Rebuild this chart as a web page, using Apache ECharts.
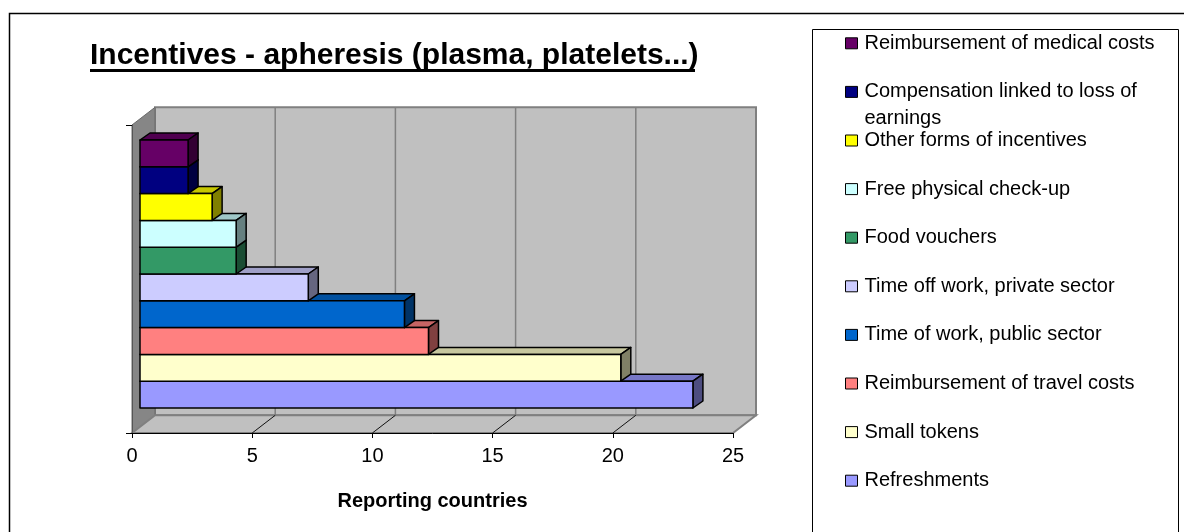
<!DOCTYPE html>
<html>
<head>
<meta charset="utf-8">
<title>Incentives - apheresis</title>
<script src="https://cdn.jsdelivr.net/npm/echarts@6/dist/echarts.min.js"></script>
<style>
html, body { margin: 0; padding: 0; background: #fff; }
#container { width: 1184px; height: 532px; }
</style>
</head>
<body>
<div id="container"></div>
<script>
// bars listed from the bottom one upwards
let categories = ['Refreshments', 'Small tokens', 'Reimbursement of travel costs', 'Time of work, public sector',
  'Time off work, private sector', 'Food vouchers', 'Free physical check-up', 'Other forms of incentives',
  'Compensation linked to loss of earnings', 'Reimbursement of medical costs'];
let values = [23, 20, 12, 11, 7, 4, 4, 3, 2, 2];
let barColors = ['#9999FF', '#FFFFCC', '#FF8080', '#0066CC', '#CCCCFF', '#339966', '#CCFFFF', '#FFFF00', '#000080', '#660066'];
let xTicks = [0, 5, 10, 15, 20, 25];
let legendWrap = { 'Compensation linked to loss of earnings': 'Compensation linked to loss of\nearnings' };

const FONT = 'Liberation Sans, Arial, sans-serif';
// 3d depth of the walls / floor and of each bar
const DX = 23, DY = -17.7;
const BDX = 10, BDY = -7;

function shade(hex, k) {
  let n = parseInt(hex.slice(1), 16);
  let r = Math.round(((n >> 16) & 255) * k), g = Math.round(((n >> 8) & 255) * k), b = Math.round((n & 255) * k);
  return 'rgb(' + r + ',' + g + ',' + b + ')';
}

function renderWalls(params, api) {
  let c = api.coord([0, 0]);
  let h = api.size([0, 1])[1];
  let top = c[1] - h / 2, bottom = c[1] + h / 2;
  let xl = c[0], xr = api.coord([xTicks[xTicks.length - 1], 0])[0];
  let kids = [];
  // back wall
  kids.push({ type: 'polygon', shape: { points: [[xl + DX, top + DY], [xr + DX, top + DY], [xr + DX, bottom + DY], [xl + DX, bottom + DY]] },
    style: { fill: '#C0C0C0', stroke: '#808080', lineWidth: 2 } });
  // left wall
  kids.push({ type: 'polygon', shape: { points: [[xl, top], [xl + DX, top + DY], [xl + DX, bottom + DY], [xl, bottom]] },
    style: { fill: '#868686', stroke: '#6a6a6a', lineWidth: 1 } });
  // floor
  kids.push({ type: 'polygon', shape: { points: [[xl, bottom], [xr, bottom], [xr + DX, bottom + DY], [xl + DX, bottom + DY]] },
    style: { fill: '#C0C0C0', stroke: '#808080', lineWidth: 2 } });
  xTicks.forEach(function (t, i) {
    let x = api.coord([t, 0])[0];
    if (i > 0 && i < xTicks.length - 1) {
      kids.push({ type: 'line', shape: { x1: x + DX, y1: top + DY, x2: x + DX, y2: bottom + DY }, style: { stroke: '#808080', lineWidth: 1.5 } });
      kids.push({ type: 'line', shape: { x1: x, y1: bottom, x2: x + DX, y2: bottom + DY }, style: { stroke: '#111', lineWidth: 1 } });
    }
  });
  return { type: 'group', children: kids };
}

function makeBar(color) {
  return function (params, api) {
    let v = api.value(0), cat = api.value(1);
    let p0 = api.coord([0, cat]), p1 = api.coord([v, cat]);
    let h = api.size([0, 1])[1];
    let x0 = p0[0], x1 = p1[0], y0 = p0[1] - h / 2, y1 = p0[1] + h / 2;
    let line = { stroke: '#000', lineWidth: 1.5, lineJoin: 'round' };
    return {
      type: 'group',
      children: [
        { type: 'polygon', shape: { points: [[x0, y0], [x1, y0], [x1 + BDX, y0 + BDY], [x0 + BDX, y0 + BDY]] },
          style: Object.assign({ fill: shade(color, 0.78) }, line) },
        { type: 'polygon', shape: { points: [[x1, y0], [x1 + BDX, y0 + BDY], [x1 + BDX, y1 + BDY], [x1, y1]] },
          style: Object.assign({ fill: shade(color, 0.5) }, line) },
        { type: 'rect', shape: { x: x0, y: y0, width: x1 - x0, height: y1 - y0 },
          style: Object.assign({ fill: color }, line) }
      ]
    };
  };
}

let barSeries = categories.map(function (name, i) {
  return {
    type: 'custom', name: name, xAxisIndex: 1, yAxisIndex: 1, z: 3,
    itemStyle: { color: barColors[i] },
    encode: { x: 0, y: 1 },
    data: [[values[i], i]],
    renderItem: makeBar(barColors[i])
  };
});

let option = {
  backgroundColor: '#fff',
  animation: false,
  title: {
    text: 'Incentives - apheresis (plasma, platelets...)',
    left: 90, top: 41, padding: 0,
    textStyle: { fontFamily: FONT, fontWeight: 'bold', fontSize: 30, color: '#000' }
  },
  legend: {
    orient: 'vertical', left: 845, top: 3.4, padding: 0,
    itemWidth: 12, itemHeight: 11, itemGap: -31.2, icon: 'rect',
    selectedMode: false,
    itemStyle: { borderColor: '#000', borderWidth: 1 },
    data: categories.slice().reverse(),
    formatter: function (name) { return '\n' + (legendWrap[name] || name + '\n'); },
    textStyle: { fontFamily: FONT, fontSize: 20, lineHeight: 26.6, color: '#000', padding: [0, 0, 0, 2] }
  },
  graphic: [
    { type: 'rect', shape: { x: 90, y: 69, width: 605, height: 3 }, style: { fill: '#000' } },
    { type: 'rect', shape: { x: 9.5, y: 13.5, width: 1200, height: 600 }, style: { fill: 'none', stroke: '#000', lineWidth: 1.5 } },
    { type: 'rect', shape: { x: 812.5, y: 29.5, width: 366, height: 560 }, style: { fill: 'none', stroke: '#000', lineWidth: 1 } }
  ],
  grid: [
    { left: 132, top: 125, width: 601, height: 308 },
    { left: 140, top: 140, width: 601, height: 268 }
  ],
  xAxis: [
    {
      type: 'value', gridIndex: 0, min: 0, max: 25, interval: 5, z: 10,
      name: 'Reporting countries', nameLocation: 'middle', nameGap: 58,
      nameTextStyle: { fontFamily: FONT, fontWeight: 'bold', fontSize: 20, color: '#000' },
      axisLine: { show: true, lineStyle: { color: '#000', width: 1 } },
      axisTick: { show: true, length: 5, lineStyle: { color: '#000' } },
      axisLabel: { fontFamily: FONT, fontSize: 20, color: '#000', margin: 13 },
      splitLine: { show: false }
    },
    { type: 'value', gridIndex: 1, min: 0, max: 25, show: false }
  ],
  yAxis: [
    {
      type: 'category', gridIndex: 0, data: [''], z: 10,
      axisLine: { show: true, lineStyle: { color: '#555', width: 1 } },
      axisTick: { show: true, length: 6, lineStyle: { color: '#000' } },
      axisLabel: { show: false },
      splitLine: { show: false }
    },
    { type: 'category', gridIndex: 1, data: categories, show: false }
  ],
  series: [
    { type: 'custom', name: 'walls', xAxisIndex: 0, yAxisIndex: 0, z: 1, silent: true,
      data: [[0, 0]], renderItem: renderWalls }
  ].concat(barSeries)
};

let myChart = echarts.init(document.getElementById('container'));
myChart.setOption(option);
</script>
</body>
</html>
